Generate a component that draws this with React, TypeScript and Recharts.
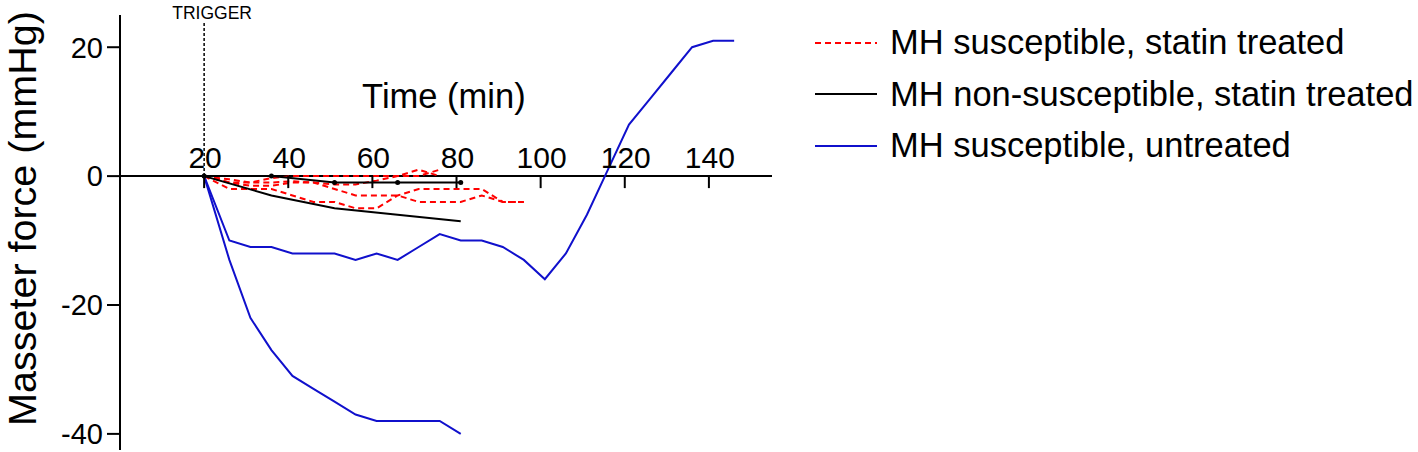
import { LineChart, Line, XAxis, YAxis, ReferenceLine, ReferenceDot, Legend, Label } from 'recharts';

const FONT = 'Arial, "Liberation Sans", Helvetica, sans-serif';
const RED = '#ff0000';
const BLUE = '#1010cc';
const BLACK = '#000000';

// time points (min)
const tBlueLong = [20, 26, 31, 36, 41, 46, 51, 56, 61, 66, 71, 76, 81, 86, 91, 96, 101, 106, 111, 116, 121, 126, 131, 136, 141, 146];
const tBlueShort = [20, 26, 31, 36, 41, 46, 51, 56, 61, 66, 71, 76, 81];
const tBlack = [20, 36, 51, 66, 81];
const tRedShort = [20, 26, 31, 36, 41, 46, 51, 56, 61, 66, 71, 76];
const tRedLong = [20, 26, 31, 36, 41, 46, 51, 56, 61, 66, 71, 76, 81, 86, 91, 96];

// masseter force (mmHg)
const untreatedA = [0, -10, -11, -11, -12, -12, -12, -13, -12, -13, -11, -9, -10, -10, -11, -13, -16, -12, -6, 1, 8, 12, 16, 20, 21, 21];
const untreatedB = [0, -13, -22, -27, -31, -33, -35, -37, -38, -38, -38, -38, -40];
const nonSusA = [0, 0, -1, -1, -1];
const nonSusB = [0, -3, -5, -6, -7];
const statinA = [0, -1, -1, -1, -0.8, -1, -1.3, -1.3, -0.7, 0, 1, 0];
const statinB = [0, -0.5, -1, -0.3, 0, 0, 0, 0, 0, 0, 0, 1];
const statinC = [0, -1, -1.5, -1.5, -1, -1, -2, -3, -3, -3, -4, -4, -4, -3, -4, -4];
const statinD = [0, -2, -2, -2, -3, -4, -4, -5, -5, -3, -2, -2, -2, -2, -4, -4];

const xTicks = [20, 40, 60, 80, 100, 120, 140];
const yTicks = [-40, -20, 0, 20];

const legendItems = [
  { label: 'MH susceptible, statin treated', color: RED, dash: '6 4' },
  { label: 'MH non-susceptible, statin treated', color: BLACK, dash: undefined },
  { label: 'MH susceptible, untreated', color: BLUE, dash: undefined },
];

const toPts = (ts: number[], vs: number[]) => ts.map((t, i) => ({ t, v: vs[i] }));

const series = [
  { key: 'sA', data: toPts(tRedShort, statinA), color: RED, dash: '6 4', dot: false },
  { key: 'sB', data: toPts(tRedShort, statinB), color: RED, dash: '6 4', dot: false },
  { key: 'sC', data: toPts(tRedLong, statinC), color: RED, dash: '6 4', dot: false },
  { key: 'sD', data: toPts(tRedLong, statinD), color: RED, dash: '6 4', dot: false },
  { key: 'nA', data: toPts(tBlack, nonSusA), color: BLACK, dash: undefined, dot: true },
  { key: 'nB', data: toPts(tBlack, nonSusB), color: BLACK, dash: undefined, dot: false },
  { key: 'uA', data: toPts(tBlueLong, untreatedA), color: BLUE, dash: undefined, dot: false },
  { key: 'uB', data: toPts(tBlueShort, untreatedB), color: BLUE, dash: undefined, dot: false },
];

const XTick = (props: any) => {
  const { cx, cy, value } = props;
  return (
    <g>
      <line x1={cx} y1={cy} x2={cx} y2={cy + 12} stroke="#000" strokeWidth={2} />
      <text x={cx + 1} y={cy - 8} textAnchor="middle" fontSize={30} fontFamily={FONT} fill="#000">
        {value}
      </text>
    </g>
  );
};

const LegendBox = () => (
  <div style={{ fontFamily: FONT, fontSize: 34.5, color: '#000' }}>
    {legendItems.map((it) => (
      <div key={it.label} style={{ display: 'flex', alignItems: 'center', height: 51.5, whiteSpace: 'nowrap' }}>
        <svg width={75} height={10} style={{ flex: 'none' }}>
          <line x1={0} y1={5} x2={62} y2={5} stroke={it.color} strokeWidth={2} strokeDasharray={it.dash} />
        </svg>
        <span>{it.label}</span>
      </div>
    ))}
  </div>
);

export default function App() {
  return (
    <div style={{ position: 'absolute', left: 0, top: 0, width: 1418, height: 452, background: '#fff' }}>
      <LineChart width={1418} height={452} margin={{ top: 15, right: 646, bottom: 2, left: 0 }}>
        <XAxis type="number" dataKey="t" domain={[0, 155]} hide allowDataOverflow />
        <YAxis
          type="number"
          domain={[-42.5, 25]}
          ticks={yTicks}
          width={120}
          allowDataOverflow
          axisLine={{ stroke: '#000', strokeWidth: 2 }}
          tickLine={{ stroke: '#000', strokeWidth: 2 }}
          tickSize={13}
          tickMargin={4}
          tick={{ fill: '#000', fontSize: 29, fontFamily: FONT }}
        >
          <Label
            content={(p: any) => {
              const vb = p.viewBox;
              const cx = vb.x + 22;
              const cy = vb.y + vb.height / 2 - 14;
              return (
                <text
                  x={cx}
                  y={cy}
                  transform={`rotate(-90 ${cx} ${cy})`}
                  textAnchor="middle"
                  dominantBaseline="central"
                  fontSize={39.5}
                  fontFamily={FONT}
                  fill="#000"
                >
                  Masseter force (mmHg)
                </text>
              );
            }}
          />
        </YAxis>
        <ReferenceLine y={0} stroke="#000" strokeWidth={2} />
        {xTicks.map((t) => (
          <ReferenceDot key={t} x={t} y={0} shape={(p: any) => <XTick {...p} value={t} />} />
        ))}
        <ReferenceLine
          segment={[{ x: 20, y: 0 }, { x: 20, y: 23.9 }]}
          stroke="#000"
          strokeWidth={1.5}
          strokeDasharray="3 2"
        />
        <ReferenceDot
          x={20}
          y={25}
          shape={(p: any) => (
            <text x={p.cx + 8} y={p.cy + 4} textAnchor="middle" fontSize={17.5} fontFamily={FONT} fill="#000">
              TRIGGER
            </text>
          )}
        />
        <ReferenceDot
          x={77}
          y={10.5}
          shape={(p: any) => (
            <text x={p.cx} y={p.cy} textAnchor="middle" fontSize={34.5} fontFamily={FONT} fill="#000">
              Time (min)
            </text>
          )}
        />
        {series.map((s) => (
          <Line
            key={s.key}
            data={s.data}
            dataKey="v"
            type="linear"
            stroke={s.color}
            strokeWidth={2}
            strokeDasharray={s.dash}
            dot={s.dot ? { r: 2.5, fill: '#000', stroke: '#000', strokeWidth: 0 } : false}
            activeDot={false}
            legendType="none"
            isAnimationActive={false}
          />
        ))}
        <Legend
          layout="vertical"
          align="center"
          verticalAlign="middle"
          content={() => <LegendBox />}
          wrapperStyle={{ left: 815, top: 17, width: 'auto', height: 'auto' }}
        />
      </LineChart>
    </div>
  );
}
